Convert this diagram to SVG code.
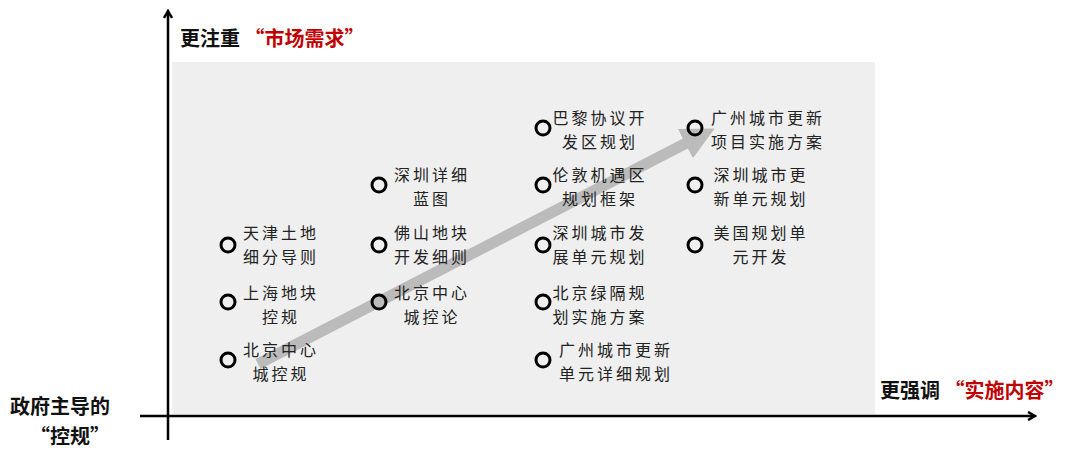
<svg xmlns="http://www.w3.org/2000/svg" width="1080" height="455" viewBox="0 0 1080 455">
<style>
.ax{font-family:"Noto Sans CJK SC","Liberation Sans",sans-serif;font-weight:bold;font-size:20px;fill:#111}
.red{fill:#c00000}
.n{font-family:"Noto Sans CJK SC",serif;font-size:16px;letter-spacing:3px;fill:#222;text-anchor:middle}
.c{fill:none;stroke:#000;stroke-width:3}
</style>
<defs>
<marker id="ah" markerWidth="10" markerHeight="10" refX="7" refY="5" orient="auto" markerUnits="userSpaceOnUse" viewBox="0 0 10 10"><path d="M1,1 L8,5 L1,9" fill="none" stroke="#000" stroke-width="2.5"/></marker>
<marker id="gh" markerWidth="3" markerHeight="3" refX="2" refY="2" orient="auto" viewBox="0 0 4 4"><path d="M0,0 L4,2 L0,4Z" fill="#bbb"/></marker>
</defs>
<rect x="172" y="62" width="703" height="352" fill="#efefef"/>
<g id="connectors">
<line x1="258" y1="364" x2="700" y2="136" stroke="#bbb" stroke-width="11" marker-end="url(#gh)"/>
<line x1="168" y1="440" x2="168" y2="12" stroke="#000" stroke-width="2.5" marker-end="url(#ah)"/>
<line x1="140" y1="416" x2="1034" y2="416" stroke="#000" stroke-width="2.5" marker-end="url(#ah)"/>
</g>
<g id="labels">
<text class="ax" x="180" y="46">更注重 <tspan class="red">“市场需求”</tspan></text>
<text class="ax" x="880" y="398">更强调 <tspan class="red">“实施内容”</tspan></text>
<text class="ax" x="10" y="414" font-size="19">政府主导的</text>
<text class="ax" x="30" y="444" font-size="19">“控规”</text>
</g>
<g id="n1"><circle class="c" cx="228" cy="245" r="7"/><text class="n" x="281" y="239">天津土地</text><text class="n" x="281" y="263">细分导则</text></g>
<g id="n2"><circle class="c" cx="228" cy="302" r="7"/><text class="n" x="281" y="299">上海地块</text><text class="n" x="281" y="323">控规</text></g>
<g id="n3"><circle class="c" cx="228" cy="360" r="7"/><text class="n" x="281" y="356">北京中心</text><text class="n" x="281" y="380">城控规</text></g>
<g id="n4"><circle class="c" cx="379" cy="185" r="7"/><text class="n" x="432" y="181">深圳详细</text><text class="n" x="432" y="205">蓝图</text></g>
<g id="n5"><circle class="c" cx="379" cy="245" r="7"/><text class="n" x="432" y="239">佛山地块</text><text class="n" x="432" y="263">开发细则</text></g>
<g id="n6"><circle class="c" cx="379" cy="302" r="7"/><text class="n" x="432" y="299">北京中心</text><text class="n" x="432" y="323">城控论</text></g>
<g id="n7"><circle class="c" cx="543" cy="128" r="7"/><text class="n" x="600" y="124">巴黎协议开</text><text class="n" x="600" y="148">发区规划</text></g>
<g id="n8"><circle class="c" cx="543" cy="185" r="7"/><text class="n" x="600" y="181">伦敦机遇区</text><text class="n" x="600" y="205">规划框架</text></g>
<g id="n9"><circle class="c" cx="543" cy="245" r="7"/><text class="n" x="600" y="239">深圳城市发</text><text class="n" x="600" y="263">展单元规划</text></g>
<g id="n10"><circle class="c" cx="543" cy="302" r="7"/><text class="n" x="600" y="299">北京绿隔规</text><text class="n" x="600" y="323">划实施方案</text></g>
<g id="n11"><circle class="c" cx="543" cy="360" r="7"/><text class="n" x="616" y="356">广州城市更新</text><text class="n" x="616" y="380">单元详细规划</text></g>
<g id="n12"><circle class="c" cx="695" cy="128" r="7"/><text class="n" x="768" y="124">广州城市更新</text><text class="n" x="768" y="148">项目实施方案</text></g>
<g id="n13"><circle class="c" cx="695" cy="185" r="7"/><text class="n" x="761" y="181">深圳城市更</text><text class="n" x="761" y="205">新单元规划</text></g>
<g id="n14"><circle class="c" cx="695" cy="245" r="7"/><text class="n" x="761" y="239">美国规划单</text><text class="n" x="761" y="263">元开发</text></g>
</svg>
